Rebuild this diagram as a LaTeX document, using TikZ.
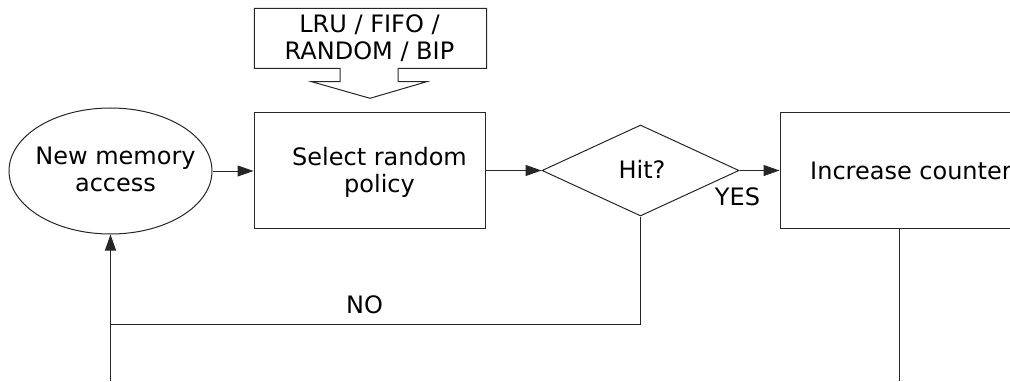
\documentclass[tikz,border=0pt]{standalone}
\usepackage{fontspec}
\setmainfont{DejaVu Sans}
\usetikzlibrary{shapes.geometric,arrows.meta}

\tikzset{
  line/.style={draw=black!85, line width=1pt},
  flow/.style={line, -{Triangle[length=16pt,width=11pt]}},
  box/.style={line, rectangle, inner sep=0pt},
  txt/.style={inner sep=0pt, align=center, font=\fontsize{24}{27}\selectfont},
}

\begin{document}
\begin{tikzpicture}[x=1pt, y=1pt]
  \useasboundingbox (0,0) rectangle (1010,381);
  \clip (0,0) rectangle (1010,381);

  % policy choices, drawn as a box with a downward arrow
  \draw[line, line join=miter]
    (254.3,372.7) -- (486.7,372.7) -- (486.7,312.7) -- (398,312.7)
    -- (398,299.3) -- (426.7,299.3) -- (370,282.7) -- (311.7,299.3)
    -- (340,299.3) -- (340,312.7) -- (254.3,312.7) -- cycle;
  \node[txt] (pol) at (369.5,343) {LRU / FIFO /\\RANDOM / BIP};

  % flow shapes
  \node[line, ellipse, inner sep=0pt, minimum width=203pt, minimum height=126pt]
    (start) at (110.5,210) {};
  \node[box, minimum width=231pt, minimum height=115pt] (sel) at (369.5,210.5) {};
  \node[line, diamond, inner sep=0pt, shape aspect=2.165,
        minimum width=197pt, minimum height=91pt] (hit) at (640.5,210.5) {};
  \node[box, minimum width=238pt, minimum height=115.5pt] (inc) at (899,210.25) {};

  % texts
  \node[txt] (starttxt) at (115.5,211.2) {New memory\\access};
  \node[txt] (seltxt) at (379.5,208.8) {Select random\\policy};
  \node[txt, anchor=base] (hittxt) at (642,202.7) {Hit?};
  \node[txt, anchor=base west] (inctxt) at (810,202) {Increase counter};
  \node[txt, anchor=base] (yes) at (737.5,176) {YES};
  \node[txt, anchor=base] (no) at (364.5,68) {NO};

  % connectors
  \coordinate (entry) at (110.5,0);
  \coordinate (join) at (110.5,57);
  \coordinate (exit) at (899,0);

  \draw[flow] (start.east) -- (start.east -| sel.west);
  \draw[flow] (sel.east) -- (sel.east -| hit.west);
  \draw[flow] (hit.east) -- (hit.east -| inc.west);
  \draw[line] (hit.south) |- (join);
  \draw[flow] (entry) -- (start.south);
  \draw[line] (inc.south) -- (exit);
\end{tikzpicture}
\end{document}
